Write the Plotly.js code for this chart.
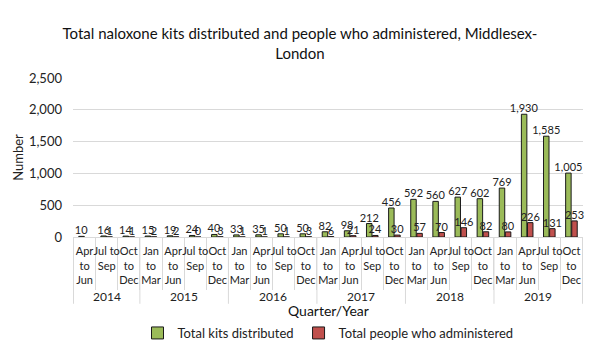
<!DOCTYPE html>
<html><head><meta charset="utf-8">
<script src="https://cdn.plot.ly/plotly-3.0.1.min.js"></script>
<style>body{margin:0;background:#fff}</style>
</head><body><div id="chart" style="width:600px;height:358px"></div>
<script>
const years = ["2014","2014","2014","2015","2015","2015","2015","2016","2016","2016","2016","2017","2017","2017","2017","2018","2018","2018","2018","2019","2019","2019","2019"];
const quarters = ["Apr<br>to<br>Jun","Jul to<br>Sep","Oct<br>to<br>Dec","Jan<br>to<br>Mar","Apr<br>to<br>Jun","Jul to<br>Sep","Oct<br>to<br>Dec","Jan<br>to<br>Mar","Apr<br>to<br>Jun","Jul to<br>Sep","Oct<br>to<br>Dec","Jan<br>to<br>Mar","Apr<br>to<br>Jun","Jul to<br>Sep","Oct<br>to<br>Dec","Jan<br>to<br>Mar","Apr<br>to<br>Jun","Jul to<br>Sep","Oct<br>to<br>Dec","Jan<br>to<br>Mar","Apr<br>to<br>Jun","Jul to<br>Sep","Oct<br>to<br>Dec"];
const kits = [10,16,14,15,19,24,40,33,35,50,50,82,98,212,456,592,560,627,602,769,1930,1585,1005];
const people = [null,1,1,2,2,0,3,1,1,1,3,6,21,24,30,57,70,146,82,80,226,131,253];

const font = "Lato, 'Open Sans', sans-serif";
const fmt = v => v === null ? "" : v.toLocaleString("en-US");
const cats = years.map((y, i) => y + " " + quarters[i].replace(/<br>/g, " "));

// year groups derived from the years array
const groups = [];
years.forEach((y, i) => {
  const g = groups[groups.length - 1];
  if (g && g.year === y) g.end = i; else groups.push({year: y, start: i, end: i});
});
const annotations = groups.map(g => ({
  x: (g.start + g.end) / 2, xref: "x", y: -0.375, yref: "paper", yanchor: "middle",
  text: g.year, showarrow: false, font: {size: 12, family: font, color: "#222"}
}));
annotations.push({x: 0.5, xref: "paper", y: -0.46, yref: "paper", yanchor: "middle",
  text: "Quarter/Year", showarrow: false, font: {size: 14, family: font, color: "#111"}});
const shapes = groups.map(g => ({type: "line", xref: "x", yref: "paper",
  x0: g.start - 0.5, x1: g.start - 0.5, y0: 0, y1: -0.42, line: {color: "#d9d9d9", width: 1}}));
shapes.push({type: "line", xref: "x", yref: "paper", x0: years.length - 0.5, x1: years.length - 0.5,
  y0: 0, y1: -0.42, line: {color: "#d9d9d9", width: 1}});

const traces = [
  {type:"bar", name:"Total kits distributed", x:cats, y:kits,
   marker:{color:"#9BBB59", line:{color:"#1a1a1a", width:1}},
   text:kits.map(fmt), textposition:"outside", cliponaxis:false, constraintext:"none",
   textfont:{size:11, color:"#222", family:font}},
  {type:"bar", name:"Total people who administered", x:cats, y:people,
   marker:{color:"#C0504D", line:{color:"#1a1a1a", width:1}},
   text:people.map(fmt), textposition:"outside", cliponaxis:false, constraintext:"none",
   textfont:{size:11, color:"#222", family:font}}
];

const layout = {
  width:600, height:358,
  margin:{l:73, r:17, t:78, b:120},
  paper_bgcolor:"#fff", plot_bgcolor:"#fff",
  font:{family:font, color:"#222", size:12},
  title:{text:"Total naloxone kits distributed and people who administered, Middlesex-<br>London",
         x:0.5, xanchor:"center", y:0.89, yanchor:"top", font:{size:15, family:font, color:"#111"}},
  barmode:"group", bargap:0.45, bargroupgap:0.1,
  showlegend:true,
  legend:{orientation:"h", x:0.5, xanchor:"center", y:-0.5, yanchor:"top", font:{size:13, family:font}, traceorder:"normal"},
  annotations: annotations, shapes: shapes,
  xaxis:{type:"category", tickvals:cats, ticktext:quarters, tickangle:0, automargin:false,
         tickson:"boundaries", ticks:"outside", ticklen:52, tickcolor:"#d9d9d9",
         showline:true, linecolor:"#d9d9d9", showgrid:false, ticklabelstandoff:4,
         tickfont:{size:11, family:font, color:"#222"}},
  yaxis:{range:[0,2500], dtick:500, tickformat:",d", showgrid:true, gridcolor:"#d9d9d9", automargin:false,
         zeroline:false, tickfont:{size:13, family:font, color:"#222"}, ticks:"", ticklabelstandoff:10,
         title:{text:"Number", font:{size:13, family:font}, standoff:2}}
};
Plotly.newPlot("chart", traces, layout, {displayModeBar:false});
</script></body></html>
